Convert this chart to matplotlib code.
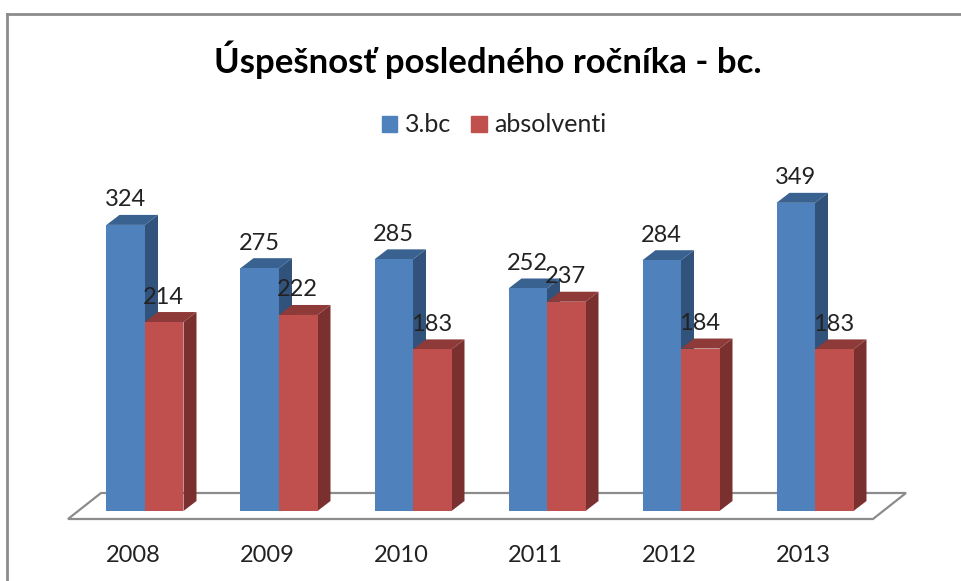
import matplotlib
matplotlib.use("Agg")
import matplotlib.pyplot as plt
from matplotlib.patches import Polygon, Patch
from matplotlib.lines import Line2D

years = ["2008", "2009", "2010", "2011", "2012", "2013"]
bc3 = [324, 275, 285, 252, 284, 349]
absolventi = [214, 222, 183, 237, 184, 183]

W, H = 961, 581
BASE = 511          # pixel row of the zero line
SCALE = 0.883       # pixels per student
STEP = 134          # pixels between years
CENTER = 145        # pixel column of first year
bar_w = 38.5 / STEP
dx = 13 / STEP
dy = 10 / SCALE
GREY = "#8c8c8c"

plt.rcParams["font.family"] = ["Lato", "DejaVu Sans"]

fig = plt.figure(figsize=(W / 100, H / 100), dpi=100)
ax = fig.add_axes([0, (H - BASE) / H, 1, BASE / H])
ax.set_xlim(-CENTER / STEP, (W - CENTER) / STEP)
ax.set_ylim(0, BASE / SCALE)
for s in ax.spines.values():
    s.set_visible(False)
ax.set_yticks([])
ax.set_xticks([i - 12 / STEP for i in range(len(years))])
ax.set_xticklabels(years, fontsize=17, color="#222222")
ax.tick_params(axis="x", length=0, pad=24.5)


def bar3d(x, val, front, side, top, z):
    ax.bar(x, val, bar_w, align="edge", color=front, zorder=z + 1)
    ax.add_patch(Polygon([(x + bar_w, 0), (x + bar_w + dx, dy), (x + bar_w + dx, val + dy), (x + bar_w, val)],
                         color=side, lw=0, zorder=z))
    ax.add_patch(Polygon([(x, val), (x + dx, val + dy), (x + bar_w + dx, val + dy), (x + bar_w, val)],
                         color=top, lw=0, zorder=z))


# floor
ax.add_patch(Polygon([(-77 / STEP, -8 / SCALE), (-44 / STEP, 18 / SCALE),
                      (761 / STEP, 18 / SCALE), (728 / STEP, -8 / SCALE)],
                     closed=True, fc="white", ec=GREY, lw=1.6, clip_on=False, zorder=1))

for i in range(len(years)):
    bar3d(i - bar_w, bc3[i], "#4f81bd", "#31527b", "#3a6291", 2 + i * 4)
    bar3d(i, absolventi[i], "#c0504d", "#7a302f", "#8e3a38", 4 + i * 4)
    ax.text(i - bar_w / 2 - 0.005, bc3[i] + 25 / SCALE, str(bc3[i]), ha="center", va="center",
            fontsize=17, color="#222222", zorder=50)
    ax.text(i + bar_w / 2 - 0.005, absolventi[i] + 25 / SCALE, str(absolventi[i]), ha="center", va="center",
            fontsize=17, color="#222222", zorder=50)

fig.text(488 / W, 1 - 60 / H, "Úspešnosť posledného ročníka - bc.", ha="center", va="center",
         fontsize=25, fontweight="bold", color="black")

handles = [Patch(color="#4f81bd", label="3.bc"), Patch(color="#c0504d", label="absolventi")]
fig.legend(handles=handles, loc="center", bbox_to_anchor=(494 / W, 1 - 125 / H), ncol=2, frameon=False,
           fontsize=18, labelcolor="#222222", handlelength=0.62, handleheight=0.62, handletextpad=0.3,
           columnspacing=0.82)

# outer frame of the chart, only left and top show
fig.add_artist(Line2D([7 / W, 7 / W], [0, 1 - 14 / H], color=GREY, lw=2))
fig.add_artist(Line2D([7 / W, 1], [1 - 14 / H, 1 - 14 / H], color=GREY, lw=2))

fig.savefig("out.png", dpi=100)
